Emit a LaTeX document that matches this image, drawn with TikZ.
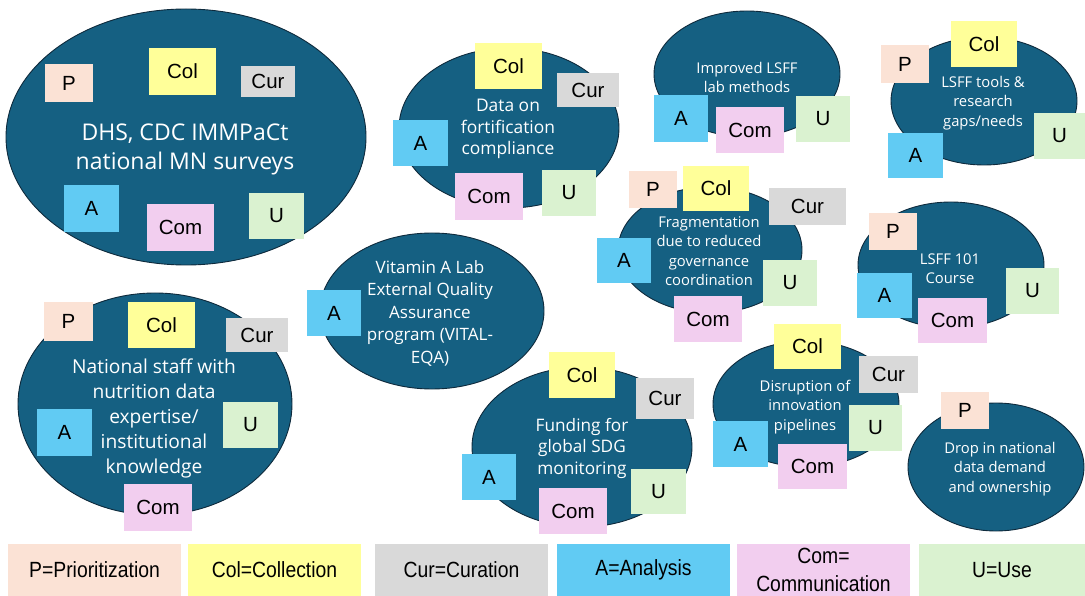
\documentclass[tikz,border=0pt]{standalone}
\usepackage{fontspec}
\setmainfont{Liberation Sans}
\newfontfamily\ellfont{Open Sans}
\newfontfamily\narrowfont[FakeStretch=0.88]{Liberation Sans}
\usetikzlibrary{shapes.geometric}
\definecolor{teal}{HTML}{156082}
\definecolor{tealedge}{HTML}{0E2A3C}
\definecolor{cP}{HTML}{FBE2D5}
\definecolor{cCol}{HTML}{FFFF99}
\definecolor{cCur}{HTML}{D9D9D9}
\definecolor{cA}{HTML}{61CBF3}
\definecolor{cCom}{HTML}{F2CEEF}
\definecolor{cU}{HTML}{DAF2D0}
\tikzset{
  ell/.style={ellipse, fill=teal, draw=tealedge, line width=0.9pt, inner sep=0pt},
  etext/.style={text=white, align=center, inner sep=0pt},
  note/.style={rectangle, inner sep=0pt, font=\fontsize{20.5}{22}\selectfont, text=black},
  nP/.style={note, fill=cP}, nCol/.style={note, fill=cCol}, nCur/.style={note, fill=cCur},
  nA/.style={note, fill=cA}, nCom/.style={note, fill=cCom}, nU/.style={note, fill=cU},
  leg/.style={rectangle, inner sep=0pt, align=center, font=\narrowfont\fontsize{22}{28}\selectfont, text=black}
}
% ellipse: name, cx, cy, rx, ry
\newcommand\myell[5]{\node[ell, minimum width={2*#4}, minimum height={2*#5}] (#1) at (#2,#3) {};}
% sticky: name, style, x1, y1, x2, y2, text
\newcommand\stk[7]{\node[#2, minimum width={#5-#3}, minimum height={#6-#4}] (#1) at ({(#3+#5)/2},{(#4+#6)/2}) {#7};}
\begin{document}
\begin{tikzpicture}[x=1pt, y=-1pt]
\useasboundingbox (0,0) rectangle (1085,596);
% ellipses
\myell{e1}{186}{137}{180}{128}
\myell{e2}{509}{128}{110}{80}
\myell{e3}{747}{74}{93}{63}
\myell{e4}{984}{101}{93}{64}
\myell{e5}{710}{250}{92}{63}
\myell{e6}{951}{265}{93}{63}
\myell{e7}{432}{311}{112}{78}
\myell{e8}{155}{404}{137}{111}
\myell{e9}{582}{447}{110}{80}
\myell{e10}{806}{404}{93}{63}
\myell{e11}{996}{467}{88}{64}
% ellipse texts
\node[etext, font=\ellfont\fontsize{23}{29}\selectfont] (t1) at (185,149) {DHS, CDC IMMPaCt\\national MN surveys};
\node[etext, font=\ellfont\fontsize{17.4}{21.5}\selectfont] (t2) at (508,129) {Data on\\fortification\\compliance};
\node[etext, font=\ellfont\fontsize{14.8}{19}\selectfont] (t3) at (747,77) {Improved LSFF\\lab methods};
\node[etext, font=\ellfont\fontsize{14.8}{19.5}\selectfont] (t4) at (983,103) {LSFF tools \&\\research\\gaps/needs};
\node[etext, font=\ellfont\fontsize{14.8}{19.5}\selectfont] (t5) at (709,251) {Fragmentation\\due to reduced\\governance\\coordination};
\node[etext, font=\ellfont\fontsize{14.8}{19}\selectfont] (t6) at (950,269) {LSFF 101\\Course};
\node[etext, font=\ellfont\fontsize{17}{22.5}\selectfont] (t7) at (430,313) {Vitamin A Lab\\External Quality\\Assurance\\program (VITAL-\\EQA)};
\node[etext, font=\ellfont\fontsize{19.2}{25}\selectfont] (t8) at (154,418) {National staff with\\nutrition data\\expertise/\\institutional\\knowledge};
\node[etext, font=\ellfont\fontsize{17.2}{21.5}\selectfont] (t9) at (582,448) {Funding for\\global SDG\\monitoring};
\node[etext, font=\ellfont\fontsize{14.8}{19.5}\selectfont] (t10) at (805,407) {Disruption of\\innovation\\pipelines};
\node[etext, font=\ellfont\fontsize{14.8}{19.5}\selectfont] (t11) at (1000,469) {Drop in national\\data demand\\and ownership};
% sticky notes: DHS
\stk{p1}{nP}{45}{64}{93}{102}{P}
\stk{col1}{nCol}{149}{48}{216}{95}{Col}
\stk{cur1}{nCur}{241}{66}{295}{97}{Cur}
\stk{a1}{nA}{64}{185}{119}{232}{A}
\stk{com1}{nCom}{147}{204}{214}{251}{Com}
\stk{u1}{nU}{249}{193}{304}{239}{U}
% Data
\stk{col2}{nCol}{475}{43}{542}{89}{Col}
\stk{cur2}{nCur}{557}{73}{619}{107}{Cur}
\stk{a2}{nA}{393}{120}{448}{166}{A}
\stk{com2}{nCom}{455}{173}{523}{220}{Com}
\stk{u2}{nU}{542}{170}{596}{216}{U}
% Improved
\stk{a3}{nA}{654}{95}{708}{142}{A}
\stk{com3}{nCom}{716}{107}{784}{153}{Com}
\stk{u3}{nU}{796}{96}{850}{142}{U}
% Tools
\stk{p4}{nP}{881}{45}{929}{83}{P}
\stk{col4}{nCol}{951}{21}{1017}{67}{Col}
\stk{u4}{nU}{1034}{113}{1085}{159}{U}
\stk{a4}{nA}{888}{133}{943}{178}{A}
% Fragmentation
\stk{p5}{nP}{629}{171}{677}{208}{P}
\stk{col5}{nCol}{683}{166}{749}{211}{Col}
\stk{cur5}{nCur}{769}{188}{846}{225}{Cur}
\stk{a5}{nA}{597}{238}{651}{283}{A}
\stk{u5}{nU}{763}{260}{817}{306}{U}
\stk{com5}{nCom}{674}{296}{742}{342}{Com}
% LSFF 101
\stk{p6}{nP}{869}{213}{917}{250}{P}
\stk{a6}{nA}{857}{273}{912}{318}{A}
\stk{com6}{nCom}{918}{298}{987}{343}{Com}
\stk{u6}{nU}{1006}{268}{1059}{314}{U}
% Vitamin A
\stk{a7}{nA}{307}{290}{361}{336}{A}
% National staff
\stk{p8}{nP}{44}{302}{93}{341}{P}
\stk{col8}{nCol}{128}{302}{195}{348}{Col}
\stk{cur8}{nCur}{226}{318}{288}{352}{Cur}
\stk{a8}{nA}{37}{409}{92}{456}{A}
\stk{u8}{nU}{223}{402}{278}{448}{U}
\stk{com8}{nCom}{124}{484}{192}{531}{Com}
% Funding
\stk{col9}{nCol}{549}{352}{615}{398}{Col}
\stk{cur9}{nCur}{636}{378}{694}{419}{Cur}
\stk{a9}{nA}{462}{454}{516}{500}{A}
\stk{com9}{nCom}{539}{488}{607}{534}{Com}
\stk{u9}{nU}{631}{469}{686}{514}{U}
% Disruption
\stk{col10}{nCol}{774}{324}{841}{369}{Col}
\stk{cur10}{nCur}{859}{356}{918}{393}{Cur}
\stk{a10}{nA}{713}{421}{768}{467}{A}
\stk{u10}{nU}{849}{405}{902}{451}{U}
\stk{com10}{nCom}{778}{444}{847}{489}{Com}
% Drop
\stk{p11}{nP}{941}{392}{989}{429}{P}
% legend
\stk{lP}{leg, fill=cP}{8}{544}{181}{596}{P=Prioritization}
\stk{lCol}{leg, fill=cCol}{188}{544}{361}{596}{Col=Collection}
\stk{lCur}{leg, fill=cCur}{375}{544}{548}{596}{Cur=Curation}
\stk{lA}{leg, fill=cA}{557}{544}{730}{596}{A=Analysis}
\stk{lCom}{leg, fill=cCom}{737}{544}{910}{596}{Com=\\Communication}
\stk{lU}{leg, fill=cU}{919}{544}{1085}{596}{U=Use}
\end{tikzpicture}
\end{document}
